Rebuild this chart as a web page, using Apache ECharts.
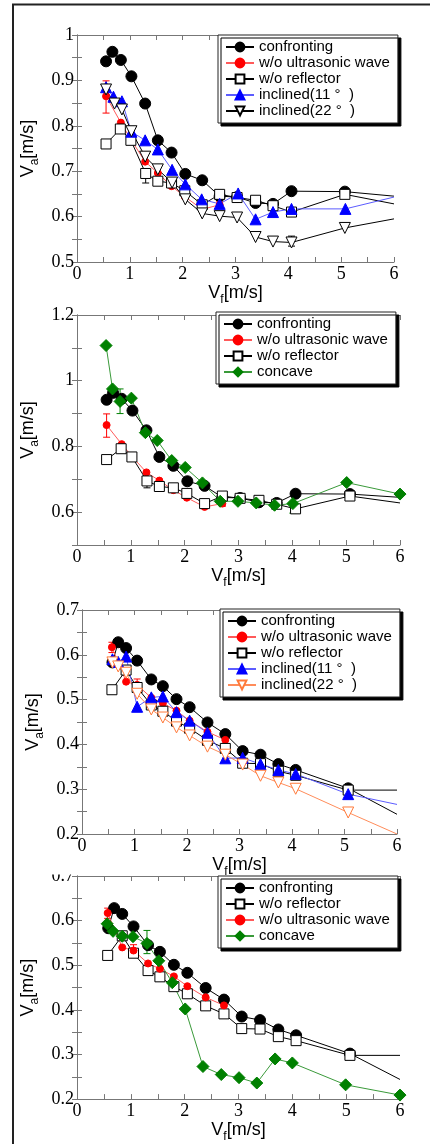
<!DOCTYPE html>
<html>
<head>
<meta charset="utf-8">
<script src="https://cdn.jsdelivr.net/npm/echarts@6/dist/echarts.min.js"></script>
<style>
html,body{margin:0;padding:0;background:#fff;}
#c{width:430px;height:1144px;}
</style>
</head>
<body>
<div id="c"></div>
<script>
// ---------- data (Vf [m/s], Va [m/s]) ----------
const xTickLabels = ['0','1','2','3','4','5','6'];

// panels 1 & 2
const confronting12 = [[0.55,0.942],[0.67,0.963],[0.83,0.945],[1.03,0.909],[1.29,0.849],[1.53,0.768],[1.79,0.741],[2.05,0.694],[2.37,0.680],[2.70,0.645],[3.03,0.643],[3.38,0.630],[3.71,0.628],[4.06,0.656],[5.07,0.655],[6.0,0.645]];
const ultrasonic12 = [[0.55,0.865],[0.83,0.807],[1.03,0.768],[1.29,0.721],[1.53,0.696],[1.79,0.667],[2.04,0.644],[2.37,0.616],[2.70,0.626]];
const reflector12 = [[0.55,0.760],[0.82,0.793],[1.02,0.768],[1.30,0.695],[1.53,0.678],[1.79,0.674],[2.04,0.657],[2.37,0.626],[2.70,0.649],[3.03,0.642],[3.38,0.636],[3.71,0.624],[4.06,0.610],[5.07,0.649],[6.0,0.628]];
const inclined11_1 = [[0.55,0.885],[0.69,0.864],[0.85,0.854],[1.03,0.787],[1.29,0.768],[1.53,0.748],[1.80,0.703],[2.05,0.671],[2.36,0.638],[2.70,0.628],[3.05,0.651],[3.38,0.594],[3.71,0.610],[4.06,0.617],[5.08,0.617],[6.0,0.643]];
const inclined22_1 = [[0.55,0.880],[0.71,0.849],[0.85,0.836],[1.03,0.788],[1.29,0.732],[1.53,0.704],[1.80,0.675],[2.05,0.638],[2.37,0.607],[2.70,0.601],[3.03,0.598],[3.38,0.555],[3.71,0.545],[4.06,0.543],[5.07,0.575],[6.0,0.595]];
const concave2 = [[0.54,1.107],[0.66,0.975],[0.80,0.937],[1.01,0.947],[1.27,0.842],[1.49,0.818],[1.76,0.757],[2.01,0.736],[2.33,0.689],[2.66,0.633],[2.99,0.633],[3.33,0.628],[3.67,0.621],[4.01,0.626],[5.01,0.690],[6.0,0.655]];

// panels 3 & 4
const confronting34 = [[0.58,0.583],[0.69,0.628],[0.84,0.615],[1.05,0.587],[1.32,0.545],[1.54,0.530],[1.80,0.501],[2.05,0.483],[2.39,0.449],[2.73,0.423],[3.06,0.385],[3.40,0.377],[3.74,0.356],[4.07,0.343],[5.07,0.302],[6.0,0.244]];
const ultrasonic34 = [[0.57,0.617],[0.84,0.540],[1.05,0.533],[1.32,0.504],[1.54,0.492],[1.80,0.475],[2.05,0.453],[2.39,0.428],[2.73,0.410]];
const reflector34 = [[0.57,0.522],[0.84,0.566],[1.05,0.527],[1.32,0.488],[1.54,0.474],[1.80,0.452],[2.05,0.436],[2.39,0.409],[2.73,0.391],[3.06,0.358],[3.40,0.357],[3.74,0.340],[4.07,0.331],[5.07,0.298],[6.0,0.298]];
const inclined11_3 = [[0.58,0.590],[0.69,0.584],[0.84,0.596],[1.05,0.484],[1.32,0.505],[1.54,0.507],[1.80,0.472],[2.05,0.453],[2.39,0.426],[2.73,0.369],[3.06,0.370],[3.40,0.356],[3.74,0.343],[4.07,0.334],[5.07,0.289],[6.0,0.266]];
const inclined22_3 = [[0.58,0.583],[0.69,0.574],[0.84,0.560],[1.05,0.513],[1.32,0.478],[1.54,0.460],[1.80,0.438],[2.05,0.420],[2.39,0.395],[2.73,0.377],[3.06,0.355],[3.40,0.330],[3.74,0.315],[4.07,0.301],[5.07,0.248],[6.0,0.200]];
const concave4 = [[0.56,0.593],[0.67,0.576],[0.84,0.565],[1.04,0.564],[1.30,0.549],[1.52,0.510],[1.77,0.461],[2.01,0.402],[2.34,0.273],[2.68,0.255],[3.01,0.248],[3.34,0.236],[3.68,0.290],[4.00,0.281],[4.99,0.232],[6.0,0.209]];

// error bars [x, low, high]
const errUltrasonic12 = [[0.55,0.828,0.899],[2.70,0.618,0.634]];
const errReflector12 = [[1.30,0.674,0.695]];
const errInclined22_1 = [[4.06,0.535,0.557]];
const errConcave2 = [[0.80,0.900,0.975],[4.01,0.597,0.626]];
const errUltrasonic34 = [[0.57,0.605,0.628],[1.05,0.523,0.546]];
const errConcave4 = [[1.30,0.526,0.578]];

// axis ranges per panel
const yMin = [0.5, 0.5, 0.2, 0.2];
const yMax = [1.0, 1.2, 0.7, 0.7];

// ---------- styles ----------
const SANS = '"Liberation Sans", Arial, sans-serif';
const SERIF = '"Liberation Serif", "Times New Roman", serif';
const grids = [
  {left:77, top:35, width:317, height:227},
  {left:77, top:315, width:323, height:230},
  {left:82, top:610, width:315, height:224},
  {left:77, top:876, width:323, height:229}
];
const legendPos = [[218,35],[216,312],[220,609],[218,876]];

const styles = {
  confronting: {symbol:'circle', size:11, fill:'#000', stroke:'#000', line:'#000'},
  ultrasonic: {symbol:'circle', size:7, fill:'#ff0000', stroke:'#ff0000', line:'#ff5a5a'},
  reflector: {symbol:'rect', size:10, fill:'#fff', stroke:'#000', line:'#000'},
  inclined11: {symbol:'triangle', size:11, fill:'#0000ff', stroke:'#0000ff', line:'#5c5cff'},
  inclined22: {symbol:'triangle', rotate:180, size:11, fill:'#fff', stroke:'#000', line:'#000'},
  inclined22o: {symbol:'triangle', rotate:180, size:11, fill:'#fff', stroke:'#ff7a3a', line:'#ff8c5a'},
  concave: {symbol:'diamond', size:12, fill:'#008000', stroke:'#008000', line:'#3a9a3a'}
};

const series = [];
const legendData = [[],[],[],[]];

function addLine(panel, label, key, data, openEnd) {
  const st = styles[key];
  const name = label + '|' + panel;
  legendData[panel].push(name);
  const last = data.length - 1;
  series.push({
    type:'line', name, xAxisIndex:panel, yAxisIndex:panel,
    symbol:st.symbol, symbolSize:st.size, symbolRotate:st.rotate || 0,
    itemStyle:{color:st.fill, borderColor:st.stroke, borderWidth:1},
    lineStyle:{color:st.line, width:1},
    emphasis:{disabled:true},
    clip:true,
    data:data.map((d,i) => (openEnd && i === last) ? {value:d, symbol:'none'} : d)
  });
}
function addErr(panel, color, data) {
  series.push({
    type:'custom', name:'err'+series.length, xAxisIndex:panel, yAxisIndex:panel, z:1,
    encode:{x:0, y:[1,2]},
    data,
    renderItem:(params, api) => {
      const x = api.value(0);
      const a = api.coord([x, api.value(1)]);
      const b = api.coord([x, api.value(2)]);
      const w = 3.5;
      const s = {stroke:color, lineWidth:1};
      return {type:'group', children:[
        {type:'line', shape:{x1:a[0],y1:a[1],x2:b[0],y2:b[1]}, style:s},
        {type:'line', shape:{x1:a[0]-w,y1:a[1],x2:a[0]+w,y2:a[1]}, style:s},
        {type:'line', shape:{x1:b[0]-w,y1:b[1],x2:b[0]+w,y2:b[1]}, style:s}
      ]};
    }
  });
}

const L_CONF = 'confronting', L_US = 'w/o ultrasonic wave', L_REF = 'w/o reflector',
      L_I11 = 'inclined(11 °  )', L_I22 = 'inclined(22 °  )', L_CON = 'concave';

// panel 1
addErr(0, '#ff0000', errUltrasonic12);
addErr(0, '#000', errReflector12);
addErr(0, '#000', errInclined22_1);
addLine(0, L_CONF, 'confronting', confronting12, true);
addLine(0, L_US, 'ultrasonic', ultrasonic12, false);
addLine(0, L_REF, 'reflector', reflector12, true);
addLine(0, L_I11, 'inclined11', inclined11_1, true);
addLine(0, L_I22, 'inclined22', inclined22_1, true);
// panel 2
addErr(1, '#ff0000', errUltrasonic12);
addErr(1, '#000', errReflector12);
addErr(1, '#008000', errConcave2);
addLine(1, L_CONF, 'confronting', confronting12, true);
addLine(1, L_US, 'ultrasonic', ultrasonic12, false);
addLine(1, L_REF, 'reflector', reflector12, true);
addLine(1, L_CON, 'concave', concave2, false);
// panel 3
addErr(2, '#ff0000', errUltrasonic34);
addLine(2, L_CONF, 'confronting', confronting34, true);
addLine(2, L_US, 'ultrasonic', ultrasonic34, false);
addLine(2, L_REF, 'reflector', reflector34, true);
addLine(2, L_I11, 'inclined11', inclined11_3, true);
addLine(2, L_I22, 'inclined22o', inclined22_3, true);
// panel 4
addErr(3, '#ff0000', errUltrasonic34);
addErr(3, '#008000', errConcave4);
addLine(3, L_CONF, 'confronting', confronting34, true);
addLine(3, L_REF, 'reflector', reflector34, true);
addLine(3, L_US, 'ultrasonic', ultrasonic34, false);
addLine(3, L_CON, 'concave', concave4, false);

const AX = '#777';
const nameRich = {
  v:{fontSize:18, fontFamily:SANS, color:'#000', verticalAlign:'bottom', padding:[0,0,4,0]},
  s:{fontSize:12, fontFamily:SANS, color:'#000', verticalAlign:'bottom'}
};

const xAxes = [], yAxes = [];
for (let p = 0; p < 4; p++) {
  const baseX = {
    type:'value', gridIndex:p, min:0, max:6, interval:1,
    splitLine:{show:false},
    axisLine:{show:true, lineStyle:{color:AX, width:1}},
    axisTick:{show:true, inside:true, length:5, lineStyle:{color:AX}},
    minorTick:{show:true, splitNumber:2, length:5, lineStyle:{color:AX}}
  };
  xAxes.push(Object.assign({}, baseX, {
    position:'bottom',
    axisLabel:{show:true, margin:3, fontFamily:SERIF, fontSize:18, color:'#000',
      formatter:v => xTickLabels[Math.round(v)]},
    name:'{v|V}{s|f}{v|[m/s]}', nameLocation:'middle', nameGap: (p===2 ? 17 : 14),
    nameTextStyle:{rich:nameRich}
  }));
  const baseY = {
    type:'value', gridIndex:p, min:yMin[p], max:yMax[p], interval:0.1,
    splitLine:{show:false},
    axisLine:{show:true, lineStyle:{color:AX, width:1}},
    axisTick:{show:true, inside:true, length:5, lineStyle:{color:AX}},
    minorTick:{show:p !== 1, splitNumber:2, length:5, lineStyle:{color:AX}}
  };
  yAxes.push(Object.assign({}, baseY, {
    position:'left',
    axisLabel:{show:true, margin:3, fontFamily:SERIF, fontSize:18, color:'#000',
      formatter:v => {
        const r = Math.round(v*10);
        if (p === 1) { if (r % 2 !== 0 || r === 5) return ''; }
        return String(r/10);
      }},
    name:'{v|V}{s|a}{v|[m/s]}', nameLocation:'middle', nameGap: 26,
    nameTextStyle:{rich:nameRich}
  }));
}
for (let p = 0; p < 4; p++) {
  xAxes.push({
    type:'value', gridIndex:p, min:0, max:6, interval:1, position:'top',
    splitLine:{show:false}, axisLabel:{show:false},
    axisLine:{show:true, lineStyle:{color:AX, width:1}},
    axisTick:{show:true, inside:true, length:5, lineStyle:{color:AX}},
    minorTick:{show:true, splitNumber:2, length:5, lineStyle:{color:AX}}
  });
  yAxes.push({
    type:'value', gridIndex:p, min:yMin[p], max:yMax[p], interval:0.1, position:'right',
    splitLine:{show:false}, axisLabel:{show:false},
    axisLine:{show:true, lineStyle:{color:AX, width:1}},
    axisTick:{show:true, inside:true, length:5, lineStyle:{color:AX}},
    minorTick:{show:p !== 1, splitNumber:2, length:5, lineStyle:{color:AX}}
  });
}

const legends = legendData.map((d, p) => ({
  data:d, orient:'vertical', left:legendPos[p][0], top:legendPos[p][1],
  itemWidth:28, itemHeight:11, itemGap:0,
  padding:[4,8,4,7],
  backgroundColor:'#fff', borderColor:'#222', borderWidth:1,
  shadowColor:'#000', shadowBlur:0, shadowOffsetX:3, shadowOffsetY:3,
  selectedMode:false,
  textStyle:{fontFamily:SANS, fontSize:15, color:'#000', lineHeight:16},
  formatter:n => n.split('|')[0],
  z:10
}));

const chart = echarts.init(document.getElementById('c'), null, {renderer:'canvas'});
chart.setOption({
  animation:false,
  backgroundColor:'#fff',
  grid:grids.map(g => Object.assign({containLabel:false}, g)),
  xAxis:xAxes,
  yAxis:yAxes,
  legend:legends,
  series,
  graphic:[
    {type:'polyline', z:100, shape:{points:[[13,1144],[13,4.5],[430,4.5]]}, style:{stroke:'#222', lineWidth:2, fill:null}},
    {type:'rect', z:100, shape:{x:30, y:860, width:46, height:14.5}, style:{fill:'#fff'}}
  ]
});
</script>
</body>
</html>
